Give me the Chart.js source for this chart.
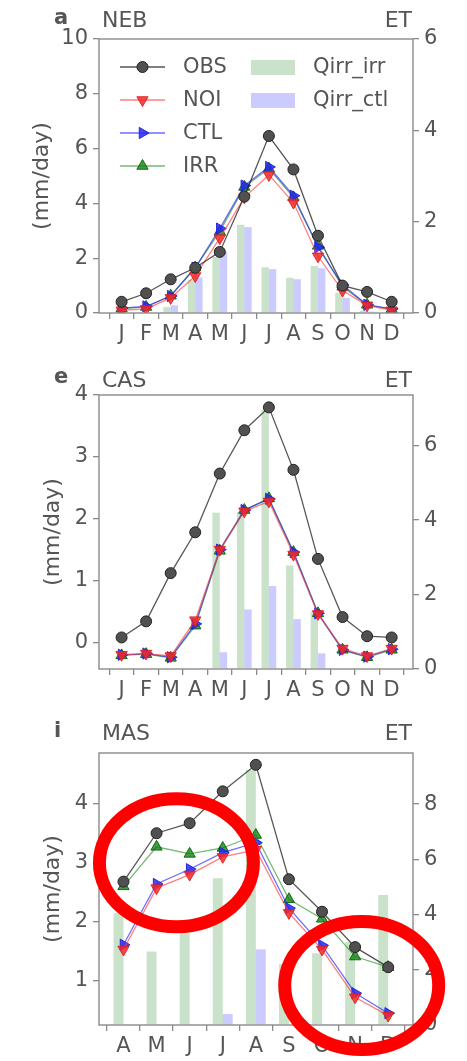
<!DOCTYPE html>
<html>
<head>
<meta charset="utf-8">
<script src="https://cdn.jsdelivr.net/npm/chart.js@4.4.1/dist/chart.umd.min.js"></script>
<style>
  body { margin: 0; background: #fff; width: 467px; height: 1061px; overflow: hidden; position: relative; }
  .panel { position: absolute; left: 0; width: 467px; }
</style>
</head>
<body>
<div class="panel" style="top:0;height:355px"><canvas id="neb" width="467" height="355"></canvas></div>
<div class="panel" style="top:355px;height:350px"><canvas id="cas" width="467" height="350"></canvas></div>
<div class="panel" style="top:705px;height:356px"><canvas id="mas" width="467" height="356"></canvas></div>
<script>
// month labels
const monthsYear = ["J", "F", "M", "A", "M", "J", "J", "A", "S", "O", "N", "D"];
const monthsMAS = ["A", "M", "J", "J", "A", "S", "O", "N", "D"];

// NEB, mm/day (left axis)
const nebObs = [0.41, 0.72, 1.23, 1.65, 2.23, 4.25, 6.46, 5.24, 2.82, 1.0, 0.77, 0.41];
const nebNoi = [0.1, 0.15, 0.55, 1.35, 2.73, 4.22, 5.04, 4.03, 2.07, 0.82, 0.28, 0.1];
const nebCtl = [0.18, 0.24, 0.62, 1.65, 3.08, 4.65, 5.33, 4.28, 2.4, 1.02, 0.3, 0.15];
const nebIrr = [0.16, 0.22, 0.63, 1.66, 2.97, 4.6, 5.27, 4.22, 2.45, 0.96, 0.3, 0.14];
// NEB, ET (right axis)
const nebQirrIrr = [0, 0, 0.13, 0.72, 1.23, 1.93, 1.0, 0.77, 1.03, 0.44, 0.05, 0];
const nebQirrCtl = [0, 0, 0.17, 0.78, 1.34, 1.88, 0.96, 0.74, 0.98, 0.33, 0.03, 0];

// CAS
const casObs = [0.08, 0.34, 1.12, 1.78, 2.73, 3.43, 3.8, 2.79, 1.35, 0.41, 0.1, 0.08];
const casNoi = [-0.2, -0.18, -0.22, 0.36, 1.5, 2.12, 2.28, 1.42, 0.46, -0.1, -0.22, -0.1];
const casCtl = [-0.2, -0.18, -0.24, 0.3, 1.5, 2.14, 2.32, 1.46, 0.47, -0.12, -0.23, -0.11];
const casIrr = [-0.21, -0.19, -0.25, 0.27, 1.48, 2.14, 2.33, 1.46, 0.47, -0.12, -0.24, -0.12];
const casQirrIrr = [0, 0, 0, 0, 4.2, 4.22, 6.96, 2.78, 1.55, 0, 0, 0];
const casQirrCtl = [0, 0, 0, 0, 0.45, 1.6, 2.23, 1.34, 0.42, 0, 0, 0];

// MAS (April - December)
const masObs = [2.68, 3.5, 3.67, 4.21, 4.66, 2.72, 2.17, 1.57, 1.23];
const masNoi = [1.53, 2.57, 2.8, 3.1, 3.22, 2.15, 1.53, 0.72, 0.41];
const masCtl = [1.61, 2.64, 2.89, 3.17, 3.34, 2.23, 1.6, 0.79, 0.45];
const masIrr = [2.6, 3.27, 3.15, 3.25, 3.47, 2.38, 2.05, 1.41, 1.23];
const masQirrIrr = [4.05, 2.66, 3.4, 5.31, 9.24, 2.2, 2.6, 3.0, 4.71];
const masQirrCtl = [0, 0, 0, 0.4, 2.74, 0, 0, 0, 0];

// tick values
const nebLeftTicks = [0, 2, 4, 6, 8, 10];
const nebRightTicks = [0, 2, 4, 6];
const casLeftTicks = [0, 1, 2, 3, 4];
const casRightTicks = [0, 2, 4, 6];
const masLeftTicks = [1, 2, 3, 4];
const masRightTicks = [0, 2, 4, 6, 8];

const TEXT = "#555";
const AXIS = "#8a8a8a";
const FAMILY = "'DejaVu Sans', sans-serif";

Chart.defaults.font.family = FAMILY;
Chart.defaults.color = TEXT;
Chart.defaults.animation = false;

const STYLE = {
  OBS: {line: "rgba(30,30,30,0.75)", fill: "#505050", edge: "#222", point: "circle", rot: 0, r: 5.5},
  NOI: {line: "rgba(255,60,60,0.65)", fill: "rgba(245,40,40,0.85)", edge: "rgba(220,30,30,0.9)", point: "triangle", rot: 180, r: 6.5},
  CTL: {line: "rgba(30,30,255,0.65)", fill: "rgba(40,40,240,0.85)", edge: "rgba(30,30,220,0.9)", point: "triangle", rot: 90, r: 6.5},
  IRR: {line: "rgba(0,128,0,0.55)", fill: "rgba(20,130,20,0.8)", edge: "rgba(0,100,0,0.9)", point: "triangle", rot: 0, r: 6.5}
};
const BAR_IRR = "rgba(60,150,60,0.28)";
const BAR_CTL = "rgba(70,70,255,0.28)";

function lineSet(label, values){
  const s = STYLE[label];
  return {
    type: "line", label, yAxisID: "y", order: 0,
    data: values.map((y, x) => ({x, y})),
    borderColor: s.line, borderWidth: 1.3, tension: 0,
    backgroundColor: s.fill,
    pointStyle: s.point, pointRotation: s.rot, pointRadius: s.r,
    pointBackgroundColor: s.fill, pointBorderColor: s.edge, pointBorderWidth: 1
  };
}
function barSet(label, values, color){
  return {
    type: "bar", label, yAxisID: "yR", order: 1,
    data: values.map((y, x) => ({x, y})),
    backgroundColor: color, borderWidth: 0,
    categoryPercentage: 0.6, barPercentage: 1
  };
}

// plot box, panel titles and extras
const framePlugin = {
  id: "frame",
  afterDatasetsDraw(chart){
    const {ctx, chartArea: a} = chart;
    ctx.save();
    ctx.strokeStyle = AXIS;
    ctx.lineWidth = 1.4;
    ctx.strokeRect(a.left, a.top, a.right - a.left, a.bottom - a.top);
    ctx.restore();
  }
};
const headPlugin = {
  id: "head",
  afterDraw(chart, args, o){
    const {ctx, chartArea: a} = chart;
    ctx.save();
    ctx.fillStyle = TEXT;
    ctx.textBaseline = "alphabetic";
    ctx.font = "bold 21px " + FAMILY;
    ctx.textAlign = "left";
    ctx.fillText(o.letter, 54, o.letterBase);
    ctx.font = "22px " + FAMILY;
    ctx.fillText(o.name, a.left + 3, o.nameBase);
    ctx.textAlign = "right";
    ctx.fillText("ET", a.right - 1, o.nameBase);
    ctx.restore();
  }
};
const legendPlugin = {
  id: "sideLegend",
  afterDraw(chart, args, o){
    if (!o.show) return;
    const {ctx} = chart;
    const sets = chart.data.datasets;
    const lines = sets.filter(d => d.type === "line");
    const bars = sets.filter(d => d.type === "bar");
    ctx.save();
    ctx.font = "21px " + FAMILY;
    ctx.fillStyle = TEXT;
    ctx.textBaseline = "middle";
    lines.forEach((d, i) => {
      const y = o.top + i * o.row;
      ctx.strokeStyle = d.borderColor;
      ctx.lineWidth = 1.3;
      ctx.beginPath();
      ctx.moveTo(o.x, y);
      ctx.lineTo(o.x + 45, y);
      ctx.stroke();
      ctx.fillStyle = d.pointBackgroundColor;
      ctx.strokeStyle = d.pointBorderColor;
      ctx.lineWidth = 1;
      Chart.helpers.drawPoint(ctx, {pointStyle: d.pointStyle, rotation: d.pointRotation, radius: d.pointRadius, borderWidth: 1}, o.x + 22.5, y);
      ctx.fillStyle = TEXT;
      ctx.fillText(d.label, o.x + 63, y + 1);
    });
    bars.forEach((d, i) => {
      const y = o.top + i * o.row;
      ctx.fillStyle = d.backgroundColor;
      ctx.fillRect(o.x2, y - 7, 44, 15);
      ctx.fillStyle = TEXT;
      ctx.fillText(d.label, o.x2 + 62, y + 1);
    });
    ctx.restore();
  }
};
const ringPlugin = {
  id: "rings",
  afterDraw(chart, args, o){
    if (!o.items) return;
    const {ctx, scales} = chart;
    ctx.save();
    ctx.strokeStyle = "#f00";
    ctx.lineWidth = 13;
    o.items.forEach(r => {
      ctx.beginPath();
      ctx.ellipse(scales.x.getPixelForValue(r.x), scales.y.getPixelForValue(r.y), r.rx, r.ry, 0, 0, Math.PI * 2);
      ctx.stroke();
    });
    ctx.restore();
  }
};

function makePanel(id, p){
  const canvas = document.getElementById(id);
  const H = canvas.height;
  const tickFont = {size: 21, family: FAMILY};
  const grid = {drawOnChartArea: false, tickLength: 6, color: AXIS, lineWidth: 1.3};
  return new Chart(canvas, {
    type: "line",
    data: {
      datasets: [
        lineSet("OBS", p.obs), lineSet("NOI", p.noi), lineSet("CTL", p.ctl), lineSet("IRR", p.irr),
        barSet("Qirr_irr", p.qIrr, BAR_IRR), barSet("Qirr_ctl", p.qCtl, BAR_CTL)
      ]
    },
    options: {
      responsive: false,
      devicePixelRatio: 1,
      layout: {padding: {top: p.top, left: 0, right: 0, bottom: 0}},
      plugins: {
        legend: {display: false},
        tooltip: {enabled: false},
        head: p.head,
        sideLegend: p.legend || {},
        rings: p.rings || {}
      },
      scales: {
        x: {
          type: "linear", min: p.xMin, max: p.xMax, offset: false,
          afterBuildTicks: s => { s.ticks = p.cats.map((c, i) => ({value: i})); },
          ticks: {callback: v => p.cats[v], font: tickFont, color: TEXT, padding: 3, maxRotation: 0, autoSkip: false},
          grid, border: {display: false},
          afterFit: s => { s.height = H - p.bottom; }
        },
        y: {
          position: "left", min: p.yMin, max: p.yMax,
          afterBuildTicks: s => { s.ticks = p.yTicks.map(v => ({value: v})); },
          ticks: {callback: v => v, font: tickFont, color: TEXT, padding: 5},
          grid, border: {display: false},
          title: {display: true, text: "(mm/day)", font: {size: 22, family: FAMILY, lineHeight: 1}, color: TEXT, padding: {top: p.titleOff, bottom: 0}},
          afterFit: s => { s.width = 99; }
        },
        yR: {
          position: "right", min: 0, max: p.rMax,
          afterBuildTicks: s => { s.ticks = p.rTicks.map(v => ({value: v})); },
          ticks: {callback: v => v, font: tickFont, color: TEXT, padding: 5},
          grid, border: {display: false},
          afterFit: s => { s.width = 54; }
        }
      }
    },
    plugins: [framePlugin, headPlugin, legendPlugin, ringPlugin]
  });
}

makePanel("neb", {
  cats: monthsYear, obs: nebObs, noi: nebNoi, ctl: nebCtl, irr: nebIrr, qIrr: nebQirrIrr, qCtl: nebQirrCtl,
  xMin: -0.92, xMax: 11.87, yMin: 0, yMax: 10, yTicks: nebLeftTicks, rMax: 6, rTicks: nebRightTicks,
  top: 39, bottom: 313, titleOff: 31,
  head: {letter: "a", name: "NEB", letterBase: 24, nameBase: 27},
  legend: {show: true, x: 120, x2: 251, top: 67, row: 33}
});
makePanel("cas", {
  cats: monthsYear, obs: casObs, noi: casNoi, ctl: casCtl, irr: casIrr, qIrr: casQirrIrr, qCtl: casQirrCtl,
  xMin: -0.92, xMax: 11.87, yMin: -0.43, yMax: 4, yTicks: casLeftTicks, rMax: 7.36, rTicks: casRightTicks,
  top: 40, bottom: 314, titleOff: 42,
  head: {letter: "e", name: "CAS", letterBase: 28, nameBase: 32}
});
makePanel("mas", {
  cats: monthsMAS, obs: masObs, noi: masNoi, ctl: masCtl, irr: masIrr, qIrr: masQirrIrr, qCtl: masQirrCtl,
  xMin: -0.74, xMax: 8.75, yMin: 0.25, yMax: 4.86, yTicks: masLeftTicks, rMax: 9.85, rTicks: masRightTicks,
  top: 48, bottom: 320, titleOff: 42,
  head: {letter: "i", name: "MAS", letterBase: 32, nameBase: 35},
  rings: {items: [{x: 1.6, y: 3.0, rx: 77, ry: 64}, {x: 7.2, y: 0.92, rx: 77, ry: 64}]}
});
</script>
</body>
</html>
